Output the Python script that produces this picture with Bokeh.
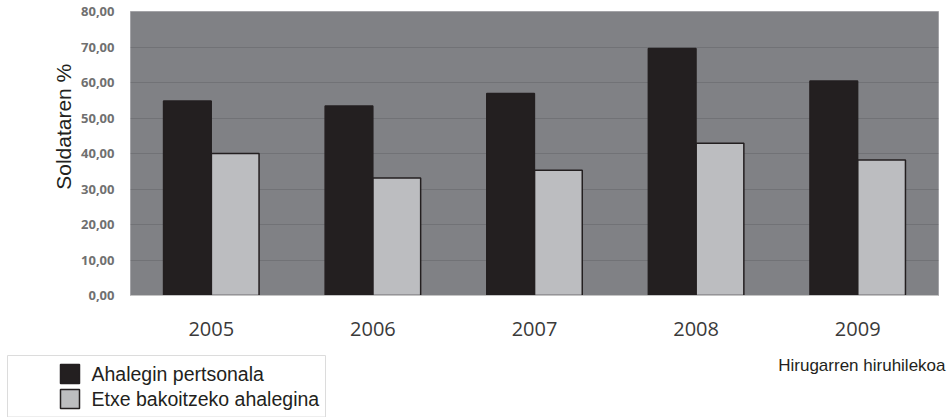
import math

from bokeh.embed import file_html
from bokeh.layouts import column, row
from bokeh.models import FactorRange, Range1d
from bokeh.core.properties import value
from bokeh.plotting import figure
from bokeh.resources import INLINE
from bokeh.transform import dodge

# Data: share of wage (%) by year
years = ["2005", "2006", "2007", "2008", "2009"]
personal_effort = [54.8, 53.4, 56.9, 69.6, 60.4]
household_effort = [40.0, 33.1, 35.3, 42.9, 38.2]
y_ticks = [0, 10, 20, 30, 40, 50, 60, 70, 80]
y_tick_labels = {t: f"{t},00" for t in y_ticks}

series_names = ["Ahalegin pertsonala", "Etxe bakoitzeko ahalegina"]
series_colors = ["#231f20", "#bcbdc0"]
y_title = "Soldataren %"
x_note = "Hirugarren hiruhilekoa"

TEXT_FONT = "Liberation Sans"
INK = "#231f20"


def blank_panel(width, height):
    """A figure whose frame fills its canvas, with pixel-like ranges (y grows downward)."""
    f = figure(width=width, height=height, x_range=Range1d(0, width),
               y_range=Range1d(height, 0), x_axis_type=None, y_axis_type=None,
               output_backend="svg", toolbar_location=None, min_border=0)
    f.outline_line_color = None
    f.grid.grid_line_color = None
    f.background_fill_color = "white"
    f.border_fill_color = "white"
    return f


# ---- main bar chart ----
p = figure(
    width=875,
    height=345,
    x_range=FactorRange(*years),
    y_range=(0, 80),
    output_backend="svg",
    toolbar_location=None,
    min_border_left=55,
    min_border_right=12,
    min_border_top=11,
    min_border_bottom=50,
)
p.background_fill_color = "#808185"
p.border_fill_color = "white"
p.outline_line_color = "#a3a3a7"
p.outline_line_width = 1

source = dict(year=years, personal=personal_effort, household=household_effort)

p.vbar(x=dodge("year", -0.148, range=p.x_range), top="personal", width=0.295,
       source=source, fill_color=series_colors[0], line_color=INK, line_width=1.5)
p.vbar(x=dodge("year", 0.148, range=p.x_range), top="household", width=0.295,
       source=source, fill_color=series_colors[1], line_color=INK, line_width=1.5)

p.xgrid.grid_line_color = None
p.ygrid.grid_line_color = "#717276"
p.ygrid.grid_line_width = 1
p.ygrid.ticker = y_ticks

p.yaxis.ticker = y_ticks
p.yaxis.major_label_overrides = y_tick_labels
p.yaxis.axis_line_color = None
p.yaxis.major_tick_line_color = None
p.yaxis.minor_tick_line_color = None
p.yaxis.major_label_standoff = 10
p.yaxis.major_label_text_font = "Open Sans"
p.yaxis.major_label_text_font_style = "bold"
p.yaxis.major_label_text_font_size = "13px"
p.yaxis.major_label_text_color = "#707070"

p.xaxis.axis_line_color = "#c4c4c4"
p.xaxis.major_tick_line_color = None
p.xaxis.minor_tick_line_color = None
p.xaxis.major_label_standoff = 20
p.xaxis.major_label_text_font = "Open Sans"
p.xaxis.major_label_text_font_size = "20px"
p.xaxis.major_label_text_color = "#3a3a3a"

# ---- rotated y title on the left ----
left = blank_panel(75, 345)
left.text(x=[63], y=[140], text=[y_title], angle=math.pi / 2,
          text_align="center", text_baseline="middle",
          text_font=value(TEXT_FONT), text_font_size="21px", text_color=INK)

# ---- legend box and note underneath ----
bottom = blank_panel(950, 72)
bottom.quad(left=[7], right=[325], top=[10], bottom=[71.5],
            fill_color="white", line_color="#dcdcdc", line_width=1)
bottom.text(x=[945], y=[20], text=[x_note], text_align="right",
            text_baseline="middle", text_font=value(TEXT_FONT),
            text_font_size="17px", text_color=INK)

# legend rows: swatch + label
key_top = [19, 44]
key_mid = [t + 9.5 for t in key_top]
bottom.quad(left=[60, 60], right=[79, 79], top=key_top, bottom=[t + 19 for t in key_top],
            fill_color=series_colors, line_color=INK, line_width=1.5)
bottom.text(x=[91, 91], y=key_mid, text=series_names, text_align="left",
            text_baseline="middle", text_font=value(TEXT_FONT),
            text_font_size="19.5px", text_color=INK)

layout = column(row(left, p, spacing=0), bottom, spacing=0)

open("out.html", "w").write(file_html(layout, INLINE))
